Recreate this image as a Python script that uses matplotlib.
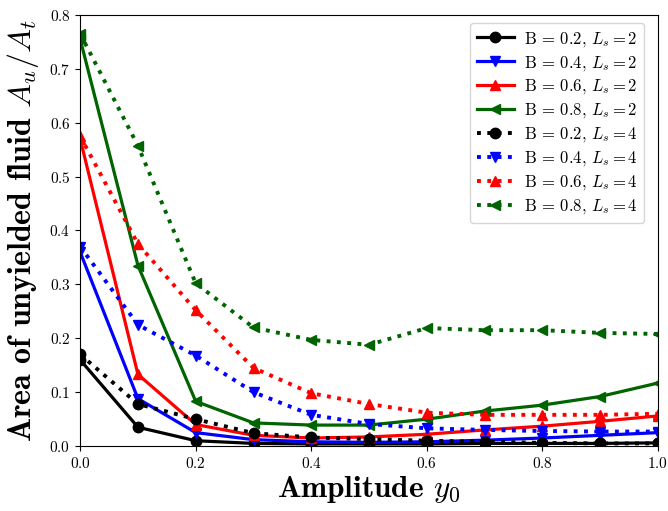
import numpy as np
import matplotlib
matplotlib.use("Agg")
import matplotlib.pyplot as plt

plt.rcParams['font.family'] = 'serif'
plt.rcParams['font.serif'] = ['cmr10']
plt.rcParams['mathtext.fontset'] = 'cm'
plt.rcParams['axes.formatter.use_mathtext'] = True

amp = [0.0, 0.1, 0.2, 0.3, 0.4, 0.5, 0.6, 0.7, 0.8, 0.9, 1.0]

# L_s = 2
b02_ls2 = [0.160, 0.035, 0.010, 0.005, 0.004, 0.004, 0.004, 0.005, 0.005, 0.005, 0.006]
b04_ls2 = [0.360, 0.088, 0.025, 0.012, 0.008, 0.007, 0.008, 0.011, 0.015, 0.020, 0.025]
b06_ls2 = [0.570, 0.133, 0.040, 0.020, 0.015, 0.017, 0.022, 0.030, 0.037, 0.046, 0.056]
b08_ls2 = [0.755, 0.335, 0.083, 0.043, 0.039, 0.039, 0.050, 0.065, 0.076, 0.092, 0.117]

# L_s = 4
b02_ls4 = [0.170, 0.078, 0.050, 0.024, 0.016, 0.013, 0.010, 0.008, 0.006, 0.005, 0.005]
b04_ls4 = [0.370, 0.225, 0.168, 0.100, 0.058, 0.041, 0.033, 0.030, 0.028, 0.027, 0.027]
b06_ls4 = [0.575, 0.375, 0.252, 0.145, 0.098, 0.078, 0.062, 0.058, 0.058, 0.058, 0.060]
b08_ls4 = [0.765, 0.557, 0.302, 0.220, 0.197, 0.188, 0.219, 0.215, 0.215, 0.210, 0.208]

fig, ax = plt.subplots(figsize=(6.68, 5.11), dpi=100)
fig.subplots_adjust(left=0.12, right=0.985, top=0.971, bottom=0.127)

lw = 2.3
ms = 7.5
ax.plot(amp, b02_ls2, '-', color='black', marker='o', lw=lw, ms=ms, label=r'B = 0.2, $L_s = 2$')
ax.plot(amp, b04_ls2, '-', color='blue', marker='v', lw=lw, ms=ms, label=r'B = 0.4, $L_s = 2$')
ax.plot(amp, b06_ls2, '-', color='red', marker='^', lw=lw, ms=ms, label=r'B = 0.6, $L_s = 2$')
ax.plot(amp, b08_ls2, '-', color='darkgreen', marker='<', lw=lw, ms=ms, label=r'B = 0.8, $L_s = 2$')
ax.plot(amp, b02_ls4, ':', color='black', marker='o', lw=lw + 0.5, ms=ms, label=r'B = 0.2, $L_s = 4$')
ax.plot(amp, b04_ls4, ':', color='blue', marker='v', lw=lw + 0.5, ms=ms, label=r'B = 0.4, $L_s = 4$')
ax.plot(amp, b06_ls4, ':', color='red', marker='^', lw=lw + 0.5, ms=ms, label=r'B = 0.6, $L_s = 4$')
ax.plot(amp, b08_ls4, ':', color='darkgreen', marker='<', lw=lw + 0.5, ms=ms, label=r'B = 0.8, $L_s = 4$')

ax.set_xlim(0, 1.0)
ax.set_ylim(0, 0.8)
ax.set_xticks(np.arange(0, 1.01, 0.2))
ax.set_yticks(np.arange(0, 0.81, 0.1))
ax.tick_params(labelsize=11)
ax.set_xlabel(r'Amplitude $y_0$', fontsize=22.5, family='cmb10', labelpad=2)
ax.set_ylabel(r'Area of unyielded fluid $A_u/A_t$', fontsize=23, family='cmb10', labelpad=6)

ax.legend(loc='upper right', bbox_to_anchor=(0.976, 0.981), borderaxespad=0,
          fontsize=12, handlelength=2.2, handletextpad=0.6, labelspacing=0.3)

plt.savefig('out.png', dpi=100)
